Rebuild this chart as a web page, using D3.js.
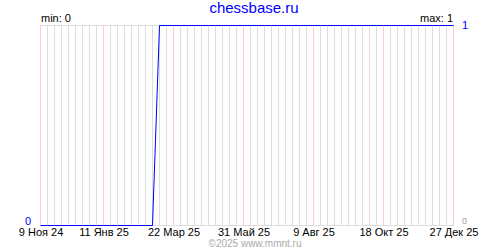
<!DOCTYPE html>
<html>
<head>
<meta charset="utf-8">
<script src="https://cdn.jsdelivr.net/npm/d3@7"></script>
<style>
body{margin:0;background:#fff;}
svg{display:block;font-family:"Liberation Sans",Arial,sans-serif;}
</style>
</head>
<body>
<svg id="chart" width="500" height="250"></svg>
<script>
// weekly values, 9 Nov 2024 .. 27 Dec 2025
var startDate = new Date(2024, 10, 9);
var values = [0,0,0,0,0,0,0,0,0,0, 0,0,0,0,0,0,0,1,1,1,
              1,1,1,1,1,1,1,1,1,1, 1,1,1,1,1,1,1,1,1,1,
              1,1,1,1,1,1,1,1,1,1, 1,1,1,1,1,1,1,1,1,1];
var tickDates = [new Date(2024,10,9), new Date(2025,0,11), new Date(2025,2,22), new Date(2025,4,31),
                 new Date(2025,7,9), new Date(2025,9,18), new Date(2025,11,27)];
var tickLabels = ["9 Ноя 24","11 Янв 25","22 Мар 25","31 Май 25","9 Авг 25","18 Окт 25","27 Дек 25"];
var title = "chessbase.ru";

var data = values.map(function(v,i){ return {date: d3.timeDay.offset(startDate, 7*i), value: v}; });

var svg = d3.select("#chart");
var x = d3.scaleTime().domain([startDate, tickDates[tickDates.length-1]]).range([40.5, 453.5]);
var y = d3.scaleLinear().domain([0, 1]).range([225.5, 25.5]);
function px(d){ return Math.round(x(d)-0.5)+0.5; }

// week grid
svg.append("g").selectAll("line").data(data).enter().append("line")
  .attr("x1", function(d){ return px(d.date); })
  .attr("x2", function(d){ return px(d.date); })
  .attr("y1", 26).attr("y2", 225)
  .attr("stroke", "#dddddd").attr("shape-rendering", "crispEdges");
// label grid (pink)
svg.append("g").selectAll("line").data(tickDates).enter().append("line")
  .attr("x1", px).attr("x2", px)
  .attr("y1", 26).attr("y2", 225)
  .attr("stroke", "#ffcccc").attr("shape-rendering", "crispEdges");
// top and bottom borders
[0, 1].forEach(function(v){
  svg.append("line").attr("x1", 40).attr("x2", 454).attr("y1", y(v)).attr("y2", y(v))
    .attr("stroke", "#dddddd").attr("shape-rendering", "crispEdges");
});

// the series
var line = d3.line().x(function(d){ return px(d.date); }).y(function(d){ return y(d.value); });
svg.append("path").datum(data).attr("d", line)
  .attr("fill", "none").attr("stroke", "#0000ff").attr("stroke-width", 1);

// x axis labels
var xAxis = d3.axisBottom(x).tickValues(tickDates).tickSize(0).tickPadding(0)
  .tickFormat(function(d,i){ return tickLabels[i]; });
var gx = svg.append("g").attr("transform", "translate(0,226)").call(xAxis);
gx.select(".domain").remove();
gx.selectAll("text").attr("font-family", "Liberation Sans, Arial, sans-serif")
  .attr("font-size", 11).attr("fill", "#000").attr("dy", null).attr("y", 10);

// y labels
svg.append("text").attr("x", 31).attr("y", 225).attr("text-anchor", "end")
  .attr("font-size", 11).attr("fill", "#0000ff").text(d3.min(values));
svg.append("text").attr("x", 462).attr("y", 29)
  .attr("font-size", 11).attr("fill", "#0000ff").text(d3.max(values));
svg.append("text").attr("x", 462).attr("y", 224)
  .attr("font-size", 9).attr("fill", "#999999").text("0");
svg.append("text").attr("x", 41).attr("y", 22)
  .attr("font-size", 11).attr("fill", "#000").text("min: " + d3.min(values));
svg.append("text").attr("x", 453).attr("y", 22).attr("text-anchor", "end")
  .attr("font-size", 11).attr("fill", "#000").text("max: " + d3.max(values));

// title and footer
svg.append("text").attr("x", 254).attr("y", 13).attr("text-anchor", "middle")
  .attr("font-size", 15).attr("fill", "#0000ff").text(title);
svg.append("text").attr("x", 255).attr("y", 247).attr("text-anchor", "middle")
  .attr("font-size", 10).attr("fill", "#aaaaaa").text("©2025 www.mmnt.ru");
</script>
</body>
</html>
